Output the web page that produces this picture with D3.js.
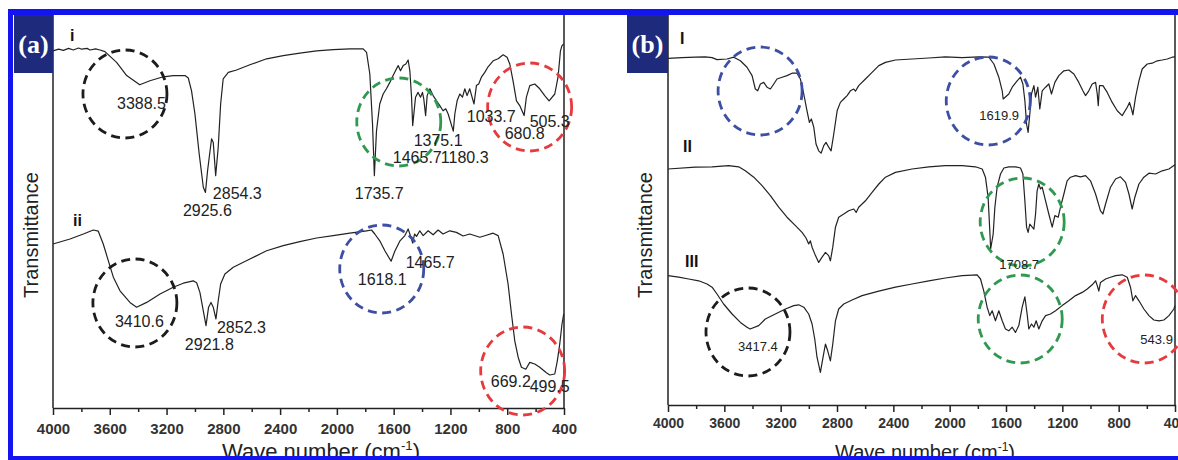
<!DOCTYPE html>
<html>
<head>
<meta charset="utf-8">
<script src="https://cdn.jsdelivr.net/npm/d3@7"></script>
<style>
body { margin: 0; background: #fff; }
</style>
</head>
<body>
<script>
// FTIR spectra, [wave number (cm-1), transmittance (arb. units)]

// panel (a)
const curveAi = [[4000,90.8],[3960,91.2],[3927,90.9],[3890,91.4],[3857,91.0],[3820,91.5],[3798,91.2],[3760,91.4],
  [3739,91.0],[3700,91.3],[3669,91.0],[3634,90.6],[3552,87.9],[3481,84.6],[3389,82.3],[3317,83.3],[3223,84.3],
  [3153,84.6],[3070,84.6],[3047,84.0],[3024,80.8],[3000,75.0],[2970,65.0],[2941,56.7],[2926,55.4],[2911,60.8],
  [2883,68.8],[2871,67.9],[2854,59.6],[2836,66.7],[2819,77.5],[2801,83.8],[2765,85.4],[2707,86.0],[2613,87.3],
  [2495,88.8],[2378,89.6],[2261,90.2],[2143,90.8],[2026,91.1],[1909,91.3],[1815,91.3],[1791,90.4],[1768,85.0],
  [1749,72.5],[1736,59.6],[1721,70.8],[1698,77.5],[1674,80.0],[1651,81.3],[1627,82.9],[1604,84.6],[1580,86.3],
  [1568,87.1],[1552,85.8],[1533,87.1],[1514,87.5],[1498,88.5],[1486,85.8],[1474,79.2],[1466,72.1],[1446,79.2],
  [1428,80.4],[1411,79.2],[1397,80.4],[1388,78.8],[1375,74.6],[1364,79.6],[1345,81.3],[1322,79.6],[1298,78.3],
  [1275,77.1],[1252,75.8],[1233,76.3],[1216,75.0],[1180,70.7],[1169,75.0],[1153,78.3],[1134,80.0],[1115,79.2],
  [1099,81.3],[1083,79.6],[1064,81.3],[1034,77.5],[1017,82.1],[1001,82.5],[982,84.2],[958,85.4],[935,86.8],
  [899,88.3],[864,88.8],[829,89.8],[801,89.2],[782,87.5],[759,83.3],[735,78.3],[712,77.1],[681,74.6],[665,79.2],
  [641,82.1],[606,82.5],[571,81.3],[536,79.6],[505,78.3],[465,80.0],[442,84.2],[425,90.8],[414,92.1],[402,92.5]];

const curveAii = [[4000,42.5],[3880,43.75],[3786,45.0],[3716,46.0],[3681,45.7],[3646,42.5],[3610,38.3],[3575,34.2],
  [3528,30.8],[3458,27.9],[3411,26.7],[3340,27.9],[3246,30.0],[3153,31.7],[3082,32.7],[3012,33.3],[2988,32.8],
  [2965,30.4],[2946,26.7],[2922,22.1],[2904,26.7],[2887,27.9],[2871,26.7],[2852,23.75],[2836,28.3],[2819,32.5],
  [2789,35.0],[2730,36.7],[2613,38.75],[2495,40.8],[2378,42.1],[2261,43.1],[2143,44.0],[2026,44.6],[1909,45.2],
  [1791,45.8],[1756,46.0],[1733,45.0],[1698,43.3],[1662,40.8],[1618,38.2],[1592,40.7],[1557,43.2],[1521,44.6],
  [1498,46.25],[1482,44.6],[1466,42.7],[1453,45.0],[1439,44.4],[1416,45.8],[1392,44.6],[1357,45.8],[1322,44.8],
  [1287,46.0],[1252,45.0],[1205,45.8],[1158,45.4],[1111,44.5],[1064,45.0],[993,44.2],[947,44.7],[899,45.2],
  [864,44.6],[829,40.0],[794,32.5],[770,25.0],[747,18.3],[723,14.2],[700,11.7],[669,11.2],[641,12.9],[606,12.5],
  [571,11.7],[524,10.3],[500,9.75],[465,10.0],[447,13.3],[430,17.5],[414,22.5],[402,25.0]];

// panel (b)
const curveBI = [[4000,88.9],[3900,89.1],[3806,89.2],[3735,89.3],[3687,89.1],[3652,88.6],[3581,88.75],[3533,89.2],
  [3486,88.3],[3439,86.7],[3403,84.6],[3380,81.25],[3363,80.8],[3344,82.5],[3320,82.9],[3297,81.7],[3273,81.25],
  [3249,82.5],[3226,83.75],[3190,84.2],[3155,84.6],[3119,85.2],[3084,85.2],[3060,83.75],[3036,80.0],[3013,75.8],
  [2996,72.9],[2982,73.75],[2965,71.7],[2949,67.5],[2930,65.8],[2913,65.2],[2894,67.1],[2878,67.9],[2859,66.7],
  [2842,65.8],[2823,70.0],[2799,75.8],[2776,77.9],[2752,78.75],[2728,79.6],[2705,80.8],[2681,81.25],[2669,80.7],
  [2646,82.1],[2598,83.75],[2551,85.4],[2503,87.1],[2456,87.9],[2385,88.5],[2267,88.75],[2148,89.0],[2030,89.3],
  [1911,89.1],[1793,89.3],[1722,89.2],[1686,87.5],[1651,84.2],[1627,80.8],[1620,78.75],[1580,80.0],[1556,81.7],
  [1521,83.3],[1497,84.2],[1480,82.5],[1466,78.3],[1454,72.5],[1443,70.4],[1431,75.0],[1419,80.0],[1402,82.1],
  [1390,79.2],[1374,81.7],[1360,76.25],[1343,80.8],[1319,81.7],[1296,82.5],[1277,80.0],[1253,82.9],[1225,84.6],
  [1189,85.8],[1154,86.0],[1118,85.0],[1083,82.9],[1054,80.8],[1035,79.6],[1012,80.8],[988,82.5],[964,82.9],
  [952,80.0],[945,77.1],[936,82.1],[912,82.1],[881,80.4],[846,77.9],[810,75.8],[775,74.6],[739,76.7],[723,77.9],
  [709,76.25],[699,74.8],[680,79.2],[656,83.3],[633,86.25],[597,87.5],[562,87.7],[526,88.3],[491,88.5],[455,88.75],
  [420,89.2],[400,89.3]];

const curveBII = [[4000,61.25],[3806,61.7],[3687,61.8],[3569,62.1],[3498,61.8],[3451,60.8],[3391,59.2],[3332,57.1],
  [3273,54.6],[3214,51.7],[3155,49.2],[3095,47.1],[3048,45.4],[3020,44.0],[3001,42.5],[2989,43.3],[2977,41.7],
  [2953,39.6],[2930,37.9],[2906,39.2],[2882,40.4],[2859,39.6],[2847,38.3],[2830,41.7],[2811,46.7],[2788,49.2],
  [2752,50.0],[2717,50.8],[2681,51.25],[2664,50.4],[2646,51.7],[2598,53.3],[2551,55.4],[2503,57.5],[2456,59.2],
  [2385,60.4],[2267,61.25],[2148,61.8],[2030,62.1],[1911,62.1],[1817,61.8],[1769,61.25],[1746,59.2],[1727,54.2],
  [1715,45.8],[1709,41.25],[1691,45.0],[1679,51.7],[1663,56.7],[1639,60.0],[1615,61.5],[1580,61.8],[1533,61.8],
  [1497,61.5],[1480,60.0],[1466,53.3],[1454,46.7],[1443,45.4],[1431,47.5],[1414,46.7],[1402,46.25],[1390,50.0],
  [1379,55.8],[1367,57.5],[1355,56.25],[1343,56.7],[1319,53.3],[1296,50.0],[1272,46.7],[1253,49.6],[1229,49.2],
  [1213,51.7],[1189,55.0],[1166,58.3],[1142,59.2],[1106,59.6],[1071,59.3],[1035,59.6],[1000,58.3],[964,55.0],
  [929,50.8],[912,50.0],[893,52.5],[858,56.7],[822,58.75],[787,59.3],[751,57.9],[727,55.0],[704,51.25],[685,54.2],
  [656,57.5],[621,59.2],[585,60.2],[538,60.0],[491,60.8],[443,61.25],[408,62.1],[400,62.3]];

const curveBIII = [[4000,34.6],[3924,34.2],[3853,33.75],[3782,33.3],[3723,32.5],[3687,31.7],[3652,30.0],[3605,27.5],
  [3545,25.0],[3486,22.9],[3439,21.7],[3417,21.25],[3356,22.1],[3309,23.75],[3238,25.0],[3166,26.25],[3107,27.1],
  [3072,27.3],[3036,26.7],[3001,25.0],[2977,22.5],[2958,18.75],[2942,14.2],[2918,10.4],[2899,14.2],[2882,17.5],
  [2866,15.8],[2847,13.3],[2830,17.5],[2811,23.3],[2788,26.25],[2752,27.5],[2693,28.5],[2622,29.6],[2503,30.7],
  [2385,31.7],[2267,32.5],[2148,33.3],[2030,34.0],[1911,34.6],[1805,34.8],[1781,33.75],[1758,30.8],[1734,26.7],
  [1715,24.6],[1698,25.8],[1675,23.3],[1651,25.8],[1627,23.3],[1604,21.25],[1580,20.8],[1556,21.7],[1533,20.4],
  [1509,22.1],[1485,26.7],[1466,29.3],[1450,25.0],[1438,21.25],[1419,22.5],[1402,21.7],[1386,23.3],[1367,21.25],
  [1343,23.3],[1319,24.6],[1284,25.0],[1248,25.8],[1201,27.1],[1154,28.3],[1106,29.6],[1059,30.4],[1023,31.25],
  [988,32.3],[964,33.3],[952,32.1],[941,30.7],[929,32.9],[893,33.75],[858,34.2],[822,34.6],[775,34.8],[739,34.2],
  [716,31.7],[699,28.3],[680,29.6],[656,28.3],[621,26.25],[585,24.6],[550,23.5],[514,23.3],[479,23.5],[443,24.6],
  [408,26.25],[400,27.1]];

// peak labels: [text, wave number at text start, transmittance at baseline]
const peakLabelsA = [["3388.5",3549,76.25],["2854.3",2874,53.75],["2925.6",3085,49.5],["1735.7",1874,53.75],
  ["1375.1",1459,67],["1465.7",1606,62.75],["1180.3",1268,62.75],["1033.7",1085,73],["505.3",642,71.75],
  ["680.8",818,68.75],["3410.6",3564,21.75],["2852.3",2845,20.25],["2921.8",3071,16],["1618.1",1853,32.25],
  ["1465.7",1515,36.5],["669.2",916,6.75],["499.5",642,5.5]];
const peakLabelsB = [["1619.9",1790,73.5],["1708.7",1648,36.25],["3417.4",3503,15.75],["543.9",646,17.5]];

// sample names
const sampleLabelsA = [["i",3880,93.25],["ii",3859,47]];
const sampleLabelsB = [["I",3915,92.5],["II",3893,65.5],["III",3879,36.75]];

// dashed rings marking band groups: [centre wave number, centre transmittance, band]
const ringsA = [[3493,80,"OH"],[1564,73,"CO"],[642,76.75,"FeO"],[3423,27.75,"OH"],[1684,36.25,"NH"],[691,10.75,"FeO"]];
const ringsB = [[3346,80.75,"NH"],[1726,78.25,"NH"],[1485,48,"CO"],[1499,23.75,"CO"],[3432,20.5,"OH"],[618,23.75,"FeO"]];

const majorTicks = [4000,3600,3200,2800,2400,2000,1600,1200,800,400];
const minorTicks = [3800,3400,3000,2600,2200,1800,1400,1000,600];

const ringColor = { OH: "#1c1c1c", CO: "#2f9950", FeO: "#e63a3e", NH: "#3d4fa3" };

const SANS = "Liberation Sans, Arial, sans-serif";
const W = 1178, H = 460;
const svg = d3.select("body").append("svg").attr("width", W).attr("height", H)
  .style("font-family", SANS);

function drawPanel(p) {
  const x = d3.scaleLinear().domain([4000, 400]).range([p.left, p.right]);
  const y = d3.scaleLinear().domain([0, 100]).range([414, 14]);
  const g = svg.append("g");

  // frame sides
  g.append("line").attr("x1", p.left).attr("x2", p.left).attr("y1", 15).attr("y2", p.bottom)
    .attr("stroke", "#222").attr("stroke-width", 1.5);
  g.append("line").attr("x1", p.right).attr("x2", p.right).attr("y1", 15).attr("y2", p.bottom)
    .attr("stroke", "#222").attr("stroke-width", 1.5);

  const ax = g.append("g").attr("transform", `translate(0,${p.bottom})`)
    .call(d3.axisBottom(x).tickValues(majorTicks).tickSize(7).tickSizeOuter(0)
      .tickPadding(p.pad).tickFormat(d3.format("d")));
  ax.attr("font-family", SANS);
  ax.select(".domain").attr("stroke", "#222").attr("stroke-width", 1.6);
  ax.selectAll(".tick line").attr("stroke", "#222").attr("stroke-width", 1.5);
  ax.selectAll(".tick text").attr("font-size", p.tickFont).attr("font-weight", "bold").attr("fill", "#333");
  const mx = g.append("g").attr("transform", `translate(0,${p.bottom})`)
    .call(d3.axisBottom(x).tickValues(minorTicks).tickSize(4).tickSizeOuter(0).tickFormat(""));
  mx.select(".domain").remove();
  mx.selectAll(".tick line").attr("stroke", "#222").attr("stroke-width", 1.5);

  const line = d3.line().x(d => x(d[0])).y(d => y(d[1]));
  g.selectAll("path.spec").data(p.curves).enter().append("path")
    .attr("class", "spec")
    .attr("d", line)
    .attr("fill", "none").attr("stroke", "#222").attr("stroke-width", 1.2)
    .attr("stroke-linejoin", "round");

  g.selectAll("ellipse").data(p.rings).enter().append("ellipse")
    .attr("cx", d => x(d[0])).attr("cy", d => y(d[1]))
    .attr("rx", 42).attr("ry", 44)
    .attr("fill", "none").attr("stroke", d => ringColor[d[2]])
    .attr("stroke-width", 2.8).attr("stroke-dasharray", "9,5.5");

  g.selectAll("text.peak").data(p.peaks).enter().append("text")
    .attr("class", "peak")
    .attr("x", d => x(d[1])).attr("y", d => y(d[2]))
    .attr("font-size", p.peakFont).attr("fill", "#222")
    .text(d => d[0]);

  g.selectAll("text.sample").data(p.samples).enter().append("text")
    .attr("class", "sample")
    .attr("x", d => x(d[1])).attr("y", d => y(d[2]))
    .attr("font-size", 16).attr("font-weight", "bold").attr("fill", "#111")
    .text(d => d[0]);

  const title = g.append("text").attr("x", p.titleEnd).attr("y", 459)
    .attr("text-anchor", "end").attr("font-size", p.titleFont).attr("fill", "#222");
  title.append("tspan").text("Wave number (cm");
  title.append("tspan").attr("font-size", p.titleFont * 0.6).attr("dy", -p.titleFont * 0.42).text("-1");
  title.append("tspan").attr("dy", p.titleFont * 0.42).text(")");

  g.append("text").attr("transform", `translate(${p.yLabelX},235) rotate(-90)`)
    .attr("text-anchor", "middle").attr("font-size", 20).attr("fill", "#222")
    .text("Transmittance");

  // panel tag
  g.append("rect").attr("x", p.tagX).attr("y", 15).attr("width", p.tagW).attr("height", 58)
    .attr("fill", "#1e2b7c");
  g.append("text").attr("x", p.tagX + p.tagW / 2).attr("y", 53)
    .attr("text-anchor", "middle").attr("font-size", 26).attr("font-weight", "bold")
    .attr("font-family", "Liberation Serif, Times New Roman, serif").attr("fill", "#fff")
    .text(p.tag);
}

drawPanel({ left: 53, right: 564, bottom: 408, pad: 8, tickFont: 15, peakFont: 16,
  curves: [curveAi, curveAii], rings: ringsA, peaks: peakLabelsA, samples: sampleLabelsA,
  titleEnd: 420, titleFont: 22, yLabelX: 38, tagX: 14, tagW: 39, tag: "(a)" });

drawPanel({ left: 668, right: 1175, bottom: 405, pad: 6, tickFont: 14, peakFont: 13,
  curves: [curveBI, curveBII, curveBIII], rings: ringsB, peaks: peakLabelsB, samples: sampleLabelsB,
  titleEnd: 1015, titleFont: 20, yLabelX: 652, tagX: 627, tagW: 41, tag: "(b)" });

// blue outer border
svg.append("rect").attr("x", 8).attr("y", 9).attr("width", W - 8).attr("height", 6).attr("fill", "#1414f0");
svg.append("rect").attr("x", 8).attr("y", 9).attr("width", 5).attr("height", H - 9).attr("fill", "#1414f0");
svg.append("rect").attr("x", 8).attr("y", 456).attr("width", W - 8).attr("height", 4).attr("fill", "#1414f0");
</script>
</body>
</html>
